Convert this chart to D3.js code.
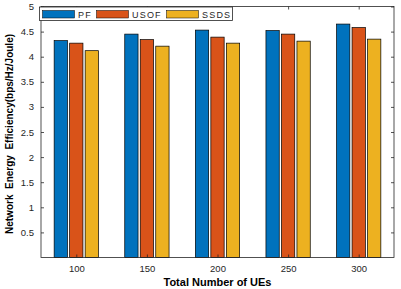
<!DOCTYPE html>
<html>
<head>
<meta charset="utf-8">
<script src="https://cdn.jsdelivr.net/npm/d3@7"></script>
<style>
  body { margin: 0; background: #fff; }
  text { font-family: "Liberation Sans", Arial, sans-serif; }
</style>
</head>
<body>
<svg id="chart"></svg>
<script>
// data
var categories = ["100", "150", "200", "250", "300"];
var seriesNames = ["PF", "USOF", "SSDS"];
var pfValues   = [4.32, 4.45, 4.53, 4.52, 4.65];
var usofValues = [4.27, 4.34, 4.39, 4.45, 4.58];
var ssdsValues = [4.12, 4.21, 4.27, 4.31, 4.35];
var yTicks = [0.5, 1, 1.5, 2, 2.5, 3, 3.5, 4, 4.5, 5];
var colors = ["#0072BD", "#D95319", "#EDB120"];

var series = [pfValues, usofValues, ssdsValues];

var width = 401, height = 289;
var margin = {top: 6.5, right: 7, bottom: 31.5, left: 41};
var w = width - margin.left - margin.right,
    h = height - margin.top - margin.bottom;

var svg = d3.select("#chart")
    .attr("width", width)
    .attr("height", height);

var g = svg.append("g")
    .attr("transform", "translate(" + margin.left + "," + margin.top + ")");

// scales
var x = d3.scalePoint().domain(categories).range([0, w]).padding(0.5);
var y = d3.scaleLinear().domain([0, 5]).range([h, 0]);
var sub = d3.scalePoint().domain(seriesNames).range([-15.5, 15.5]);
var barW = 13.3;

// bars
series.forEach(function(vals, si) {
  g.selectAll(".bar" + si)
    .data(vals)
    .enter().append("rect")
    .attr("x", function(d, i) { return x(categories[i]) + sub(seriesNames[si]) - barW / 2; })
    .attr("y", function(d) { return y(d); })
    .attr("width", barW)
    .attr("height", function(d) { return h - y(d); })
    .attr("fill", colors[si])
    .attr("stroke", "#000")
    .attr("stroke-width", 0.7);
});

// axes (matlab style, ticks inside, box on)
var axisStyle = function(sel) {
  sel.select(".domain").remove();
  sel.selectAll("line").attr("stroke", "#262626").attr("stroke-width", 0.8);
  sel.selectAll("text").attr("fill", "#262626").style("font-size", "9.5px");
};

g.append("g")
  .attr("transform", "translate(0," + h + ")")
  .call(d3.axisBottom(x).tickSizeInner(-3).tickPadding(8))
  .call(axisStyle);

g.append("g")
  .call(d3.axisTop(x).tickSizeInner(-3).tickFormat(""))
  .call(axisStyle);

g.append("g")
  .call(d3.axisLeft(y).tickValues(yTicks).tickSizeInner(-3).tickPadding(7)
        .tickFormat(d3.format("")))
  .call(axisStyle);

g.append("g")
  .attr("transform", "translate(" + w + ",0)")
  .call(d3.axisRight(y).tickValues(yTicks).tickSizeInner(-3).tickFormat(""))
  .call(axisStyle);

// box
g.append("rect")
  .attr("width", w).attr("height", h)
  .attr("fill", "none")
  .attr("stroke", "#262626")
  .attr("stroke-width", 0.8);

// axis titles
svg.append("text")
  .attr("x", margin.left + w / 2)
  .attr("y", 286)
  .attr("text-anchor", "middle")
  .style("font-size", "11px")
  .style("font-weight", "bold")
  .text("Total Number of UEs");

svg.append("text")
  .attr("transform", "translate(13," + (margin.top + h / 2 + 2) + ") rotate(-90)")
  .attr("text-anchor", "middle")
  .style("font-size", "10px")
  .style("font-weight", "bold")
  .style("white-space", "pre")
  .text("Network  Energy  Efficiency(bps/Hz/Joule)");

// legend
var legend = svg.append("g").attr("transform", "translate(39.5,7)");
legend.append("rect")
  .attr("width", 193).attr("height", 13.5)
  .attr("fill", "#fff")
  .attr("stroke", "#262626")
  .attr("stroke-width", 0.8);

var legX = [3, 57, 127];
seriesNames.forEach(function(name, i) {
  legend.append("rect")
    .attr("x", legX[i]).attr("y", 3.5)
    .attr("width", 32).attr("height", 7.5)
    .attr("fill", colors[i])
    .attr("stroke", "#000")
    .attr("stroke-width", 0.5);
  legend.append("text")
    .attr("x", legX[i] + 35.5).attr("y", 10.8)
    .style("font-size", "9px")
    .style("letter-spacing", "1.2px")
    .attr("fill", "#262626")
    .text(name);
});
</script>
</body>
</html>
